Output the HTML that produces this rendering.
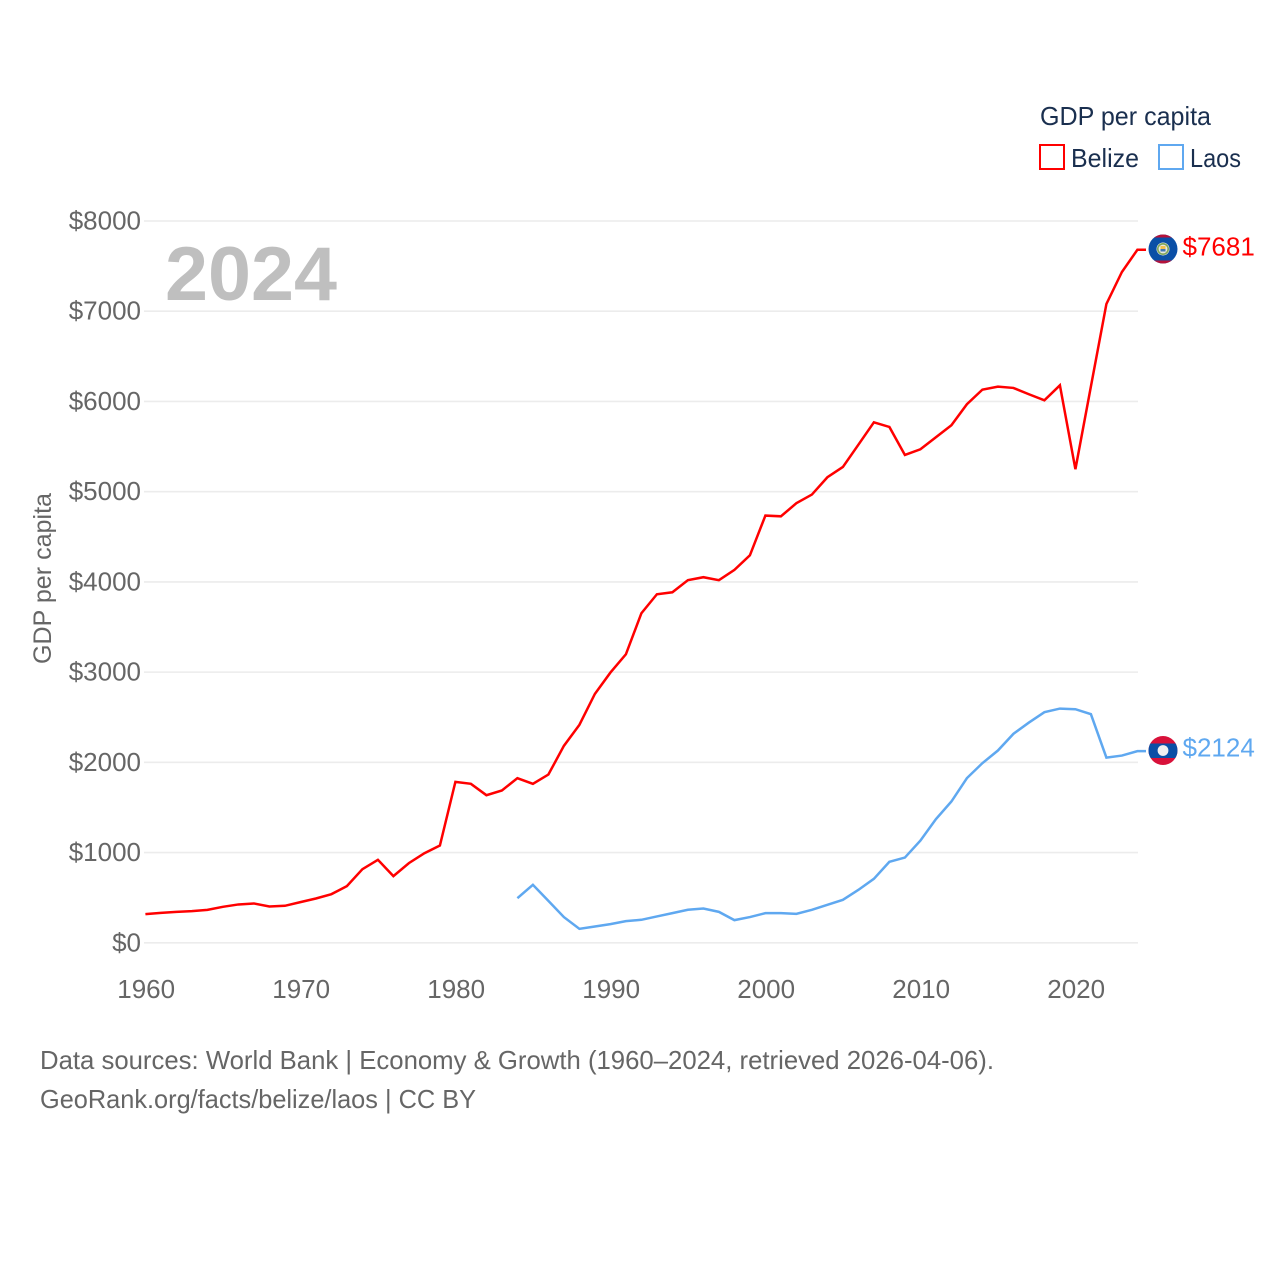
<!DOCTYPE html>
<html lang="en">
<head>
<meta charset="utf-8">
<title>GDP per capita: Belize and Laos</title>
<style>
html,body{margin:0;padding:0;background:#fff;width:1280px;height:1280px;overflow:hidden}
svg{display:block}
text{font-family:"Liberation Sans",sans-serif}
</style>
</head>
<body>
<svg id="chart" xmlns="http://www.w3.org/2000/svg" width="1280" height="1280" viewBox="0 0 1280 1280">
  <defs>
    <clipPath id="clip-belize"><circle cx="1163" cy="249" r="14.5"/></clipPath>
    <clipPath id="clip-laos"><circle cx="1163" cy="750.5" r="14.5"/></clipPath>
  </defs>
  <g id="grid"></g>
  <g id="y-ticks"></g>
  <g id="x-ticks"></g>
  <text x="165" y="300" font-size="76" font-weight="700" fill="#bfbfbf" textLength="172" lengthAdjust="spacingAndGlyphs">2024</text>
  <text transform="translate(51,664) rotate(-90)" font-size="25" fill="#666666" textLength="171" lengthAdjust="spacingAndGlyphs">GDP per capita</text>
  <g id="series"></g>

  <g>
    <text x="1040" y="125" font-size="26" fill="#1a2f4f" textLength="171" lengthAdjust="spacingAndGlyphs">GDP per capita</text>
    <rect x="1040" y="145" width="24" height="24" fill="#fff" stroke="#ff0000" stroke-width="2"/>
    <text x="1071" y="167" font-size="26" fill="#1a2f4f" textLength="68" lengthAdjust="spacingAndGlyphs">Belize</text>
    <rect x="1159" y="145" width="24" height="24" fill="#fff" stroke="#5fa8f0" stroke-width="2"/>
    <text x="1190" y="167" font-size="26" fill="#1a2f4f" textLength="51" lengthAdjust="spacingAndGlyphs">Laos</text>
  </g>

  <g clip-path="url(#clip-belize)">
    <rect x="1148" y="234" width="30" height="30" fill="#0a4fa6"/>
    <rect x="1148" y="234" width="30" height="3.5" fill="#b5123a"/>
    <rect x="1148" y="260.5" width="30" height="3.5" fill="#b5123a"/>
    <circle cx="1163" cy="249" r="6.5" fill="#e9e9e0"/>
    <circle cx="1163" cy="249" r="5.2" fill="none" stroke="#7fa65a" stroke-width="1.6"/>
    <rect x="1160.5" y="246" width="5" height="3" fill="#f2c14e"/>
    <rect x="1160.5" y="249" width="5" height="2.5" fill="#3f78b5"/>
  </g>
  <g clip-path="url(#clip-laos)">
    <rect x="1148" y="735" width="30" height="31" fill="#d8113a"/>
    <rect x="1148" y="743.5" width="30" height="14.5" fill="#0a4fa6"/>
    <circle cx="1163" cy="750.5" r="5.4" fill="#f0f0f0"/>
  </g>

  <text x="1182.5" y="255.5" font-size="26" fill="#ff0000">$7681</text>
  <text x="1182.5" y="756.5" font-size="26" fill="#5fa8f0">$2124</text>

  <g>
    <text x="40" y="1069" font-size="26" fill="#666666" textLength="954" lengthAdjust="spacingAndGlyphs">Data sources: World Bank | Economy &amp; Growth (1960–2024, retrieved 2026-04-06).</text>
    <text x="40" y="1108" font-size="26" fill="#666666" textLength="436" lengthAdjust="spacingAndGlyphs">GeoRank.org/facts/belize/laos | CC BY</text>
  </g>
</svg>
<script>
const belizeStartYear = 1960;
const belizeValues = [318,332,343,351,365,399,425,436,402,410,451,491,539,628,816,920,739,883,993,1078,1784,1762,1636,1688,1825,1762,1865,2183,2416,2759,2995,3198,3653,3863,3885,4019,4052,4019,4133,4295,4735,4727,4872,4968,5160,5274,5521,5769,5717,5407,5470,5603,5736,5969,6131,6164,6150,6080,6013,6179,5249,6166,7080,7435,7681];
const laosStartYear = 1984;
const laosValues = [495,643,465,285,155,181,207,240,255,292,329,366,380,343,251,285,329,329,321,366,421,476,587,709,898,945,1133,1370,1566,1825,1991,2131,2316,2441,2556,2596,2589,2534,2053,2075,2124];
const yTickValues = [0,1000,2000,3000,4000,5000,6000,7000,8000];
const yTickLabels = ["$0","$1000","$2000","$3000","$4000","$5000","$6000","$7000","$8000"];
const xTickValues = [1960,1970,1980,1990,2000,2010,2020];
const xTickLabels = ["1960","1970","1980","1990","2000","2010","2020"];

const NS = 'http://www.w3.org/2000/svg';
function xScale(year){ return 145.4 + (year - 1960) * (1137.4 - 145.4) / (2024 - 1960); }
function yScale(v){ return 942.8 - v * (942.8 - 221) / 8000; }
function make(tag, attrs, parent){
  const el = document.createElementNS(NS, tag);
  for (const k in attrs) el.setAttribute(k, attrs[k]);
  parent.appendChild(el);
  return el;
}

const grid = document.getElementById('grid');
const yTicks = document.getElementById('y-ticks');
const xTicks = document.getElementById('x-ticks');
const series = document.getElementById('series');

yTickValues.forEach(function(v, i){
  const line = make('line', {x1:144, x2:1138, y1:yScale(v), y2:yScale(v), stroke:'#ececec', 'stroke-width':1.6}, grid);
  
  
  const t = make('text', {x:141, y:yScale(v)+8.5, 'text-anchor':'end', 'font-size':26, fill:'#666666'}, yTicks);
  t.textContent = yTickLabels[i];
  
  
});

xTickValues.forEach(function(year, i){
  const t = make('text', {x:xScale(year)+0.8, y:998, 'text-anchor':'middle', 'font-size':26, fill:'#666666'}, xTicks);
  t.textContent = xTickLabels[i];
  
  
});

function drawSeries(values, startYear, color, name){
  const pts = values.map(function(v, i){ return xScale(startYear + i).toFixed(2) + ',' + yScale(v).toFixed(2); });
  const lastV = values[values.length - 1];
  const lastX = xScale(startYear + values.length - 1);
  pts.push((lastX + 8.6) + ',' + yScale(lastV).toFixed(2));
  const line = make('polyline', {points:pts.join(' '), fill:'none', stroke:color, 'stroke-width':2.5, 'stroke-linejoin':'miter'}, series);
  
  
}
drawSeries(belizeValues, belizeStartYear, '#ff0000', 'line-belize');
drawSeries(laosValues, laosStartYear, '#5fa8f0', 'line-laos');
</script>
</body>
</html>
